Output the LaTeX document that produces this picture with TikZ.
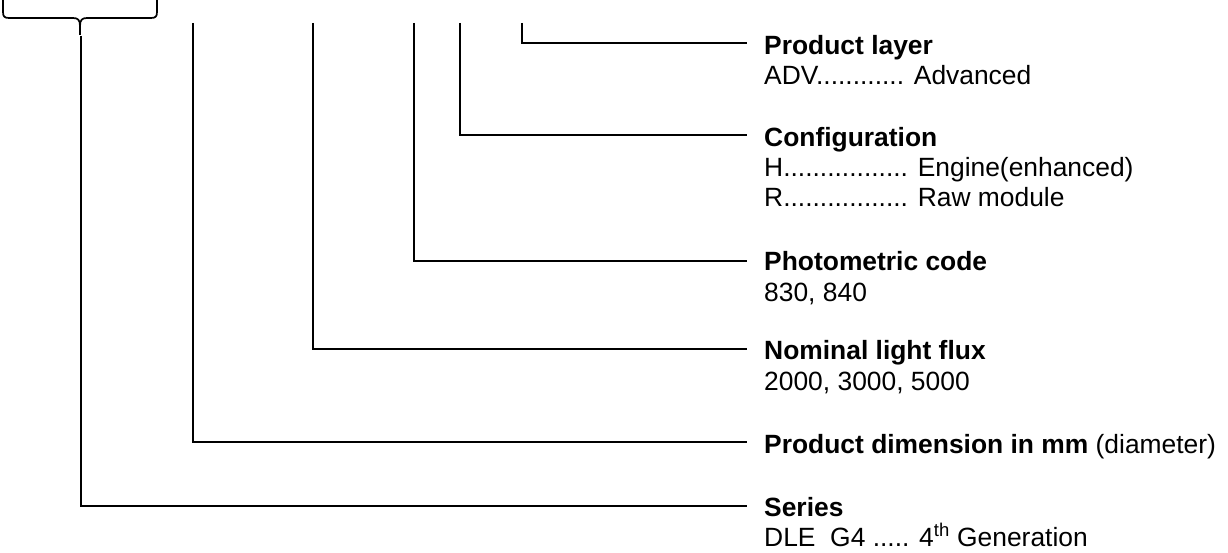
\documentclass[tikz,border=0pt]{standalone}
\usepackage{fontspec}
\setmainfont{Liberation Sans}
\begin{document}
\begin{tikzpicture}[x=1pt,y=-1pt,
  conn/.style={line width=1.3pt, black},
  bracel/.style={line width=1.7pt, black},
  title/.style={anchor=base west, inner sep=0pt, font=\fontsize{26.4}{30}\selectfont\bfseries},
  desc/.style={anchor=base west, inner sep=0pt, font=\fontsize{26.4}{30}\selectfont}]
\useasboundingbox (0,0) rectangle (1228,553);
\clip (0,0) rectangle (1228,553);

% brace
\draw[bracel] (3,-5) -- (3,12) .. controls (3,16.5) and (4.5,18) .. (9,18) -- (73,18)
  .. controls (78,18) and (80,20) .. (80,26) -- (80,35);
\draw[bracel] (80,26) .. controls (80,20) and (82,18) .. (87,18) -- (151,18)
  .. controls (155.5,18) and (157,16.5) .. (157,12) -- (157,-5);

% coordinates
\coordinate (btip) at (81,36);
\coordinate (vdim) at (193,23);
\coordinate (vnom) at (313,23);
\coordinate (vpho) at (414,23);
\coordinate (vcfg) at (460,23);
\coordinate (vprod) at (522,23);

\coordinate (eprod) at (747,43);
\coordinate (ecfg) at (747,135);
\coordinate (epho) at (747,261);
\coordinate (enom) at (747,349);
\coordinate (edim) at (747,442);
\coordinate (eser) at (747,506);

% texts
\node[title] (tprod) at (764,55) {Product layer};
\node[desc] (dprod) at (764,85) {ADV............ Advanced};

\node[title] (tcfg) at (764,147) {Configuration};
\node[desc] (dcfg1) at (764,177) {H................. Engine(enhanced)};
\node[desc] (dcfg2) at (764,207) {R................. Raw module};

\node[title] (tpho) at (764,271) {Photometric code};
\node[desc] (dpho) at (764,301) {830, 840};

\node[title] (tnom) at (764,359) {Nominal light flux};
\node[desc] (dnom) at (764,390) {2000, 3000, 5000};

\node[desc] (tdim) at (764,453) {\textbf{Product dimension in mm} (diameter)};

\node[title] (tser) at (764,516) {Series};
\node[desc] (dser) at (764,546) {DLE\ \ G4 ..... 4\textsuperscript{th} Generation};

% connectors
\draw[conn] (vprod) |- (eprod);
\draw[conn] (vcfg) |- (ecfg);
\draw[conn] (vpho) |- (epho);
\draw[conn] (vnom) |- (enom);
\draw[conn] (vdim) |- (edim);
\draw[conn] (btip) |- (eser);
\end{tikzpicture}
\end{document}
